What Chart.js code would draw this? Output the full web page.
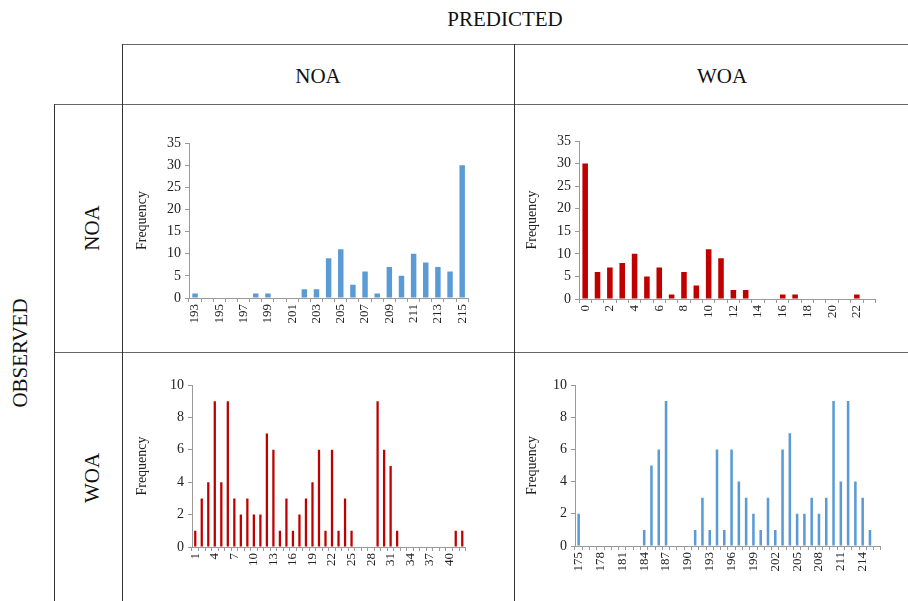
<!DOCTYPE html>
<html>
<head>
<meta charset="utf-8">
<script src="https://cdn.jsdelivr.net/npm/chart.js@4/dist/chart.umd.min.js"></script>
<style>
  body { margin: 0; background: #fff; }
  #page { position: relative; width: 908px; height: 601px; overflow: hidden; font-family: 'Liberation Serif', serif; color: #111; }
  .hl { position: absolute; height: 0; border-top: 1.5px solid #666; }
  .vl { position: absolute; width: 0; border-left: 1.5px solid #333; }
  .lbl { position: absolute; font-size: 21px; white-space: nowrap; transform: translate(-50%, -50%); }
  .rot { transform: translate(-50%, -50%) rotate(-90deg); }
  .box { position: absolute; }
</style>
</head>
<body>
<div id="page">
  <div class="lbl" style="left:505px; top:19px;">PREDICTED</div>
  <div class="lbl" style="left:318px; top:76px;">NOA</div>
  <div class="lbl" style="left:722px; top:76px;">WOA</div>
  <div class="lbl rot" style="left:20px; top:353px;">OBSERVED</div>
  <div class="lbl rot" style="left:92px; top:228px;">NOA</div>
  <div class="lbl rot" style="left:92px; top:478px;">WOA</div>

  <div class="hl" style="left:123px; top:44px; width:785px;"></div>
  <div class="hl" style="left:55px; top:104px; width:853px;"></div>
  <div class="hl" style="left:55px; top:352px; width:853px;"></div>
  <div class="vl" style="left:122px; top:44px; height:557px;"></div>
  <div class="vl" style="left:54px; top:104px; height:497px;"></div>
  <div class="vl" style="left:514px; top:44px; height:557px;"></div>

  <div class="box" style="left:130px; top:130px; width:350px; height:215px;"><canvas id="c1"></canvas></div>
  <div class="box" style="left:520px; top:128px; width:367px; height:215px;"><canvas id="c2"></canvas></div>
  <div class="box" style="left:130px; top:372px; width:350px; height:225px;"><canvas id="c3"></canvas></div>
  <div class="box" style="left:520px; top:372px; width:375px; height:225px;"><canvas id="c4"></canvas></div>
</div>
<script>
// Observed NOA / Predicted NOA
const noaNoaLabels = ['193','194','195','196','197','198','199','200','201','202','203','204','205','206','207','208','209','210','211','212','213','214','215'];
const noaNoaValues = [1,0,0,0,0,1,1,0,0,2,2,9,11,3,6,1,7,5,10,8,7,6,30];

// Observed NOA / Predicted WOA
const noaWoaLabels = ['0','1','2','3','4','5','6','7','8','9','10','11','12','13','14','15','16','17','18','19','20','21','22','23'];
const noaWoaValues = [30,6,7,8,10,5,7,1,6,3,11,9,2,2,0,0,1,1,0,0,0,0,1,0];

// Observed WOA / Predicted NOA
const woaNoaLabels = ['1','2','3','4','5','6','7','8','9','10','11','12','13','14','15','16','17','18','19','20','21',
  '22','23','24','25','26','27','28','29','30','31','32','33','34','35','36','37','38','39','40','41','42'];
const woaNoaValues = [1,3,4,9,4,9,3,2,3,2,2,7,6,1,3,1,2,3,4,6,1,
  6,1,3,1,0,0,0,9,6,5,1,0,0,0,0,0,0,0,0,1,1];

// Observed WOA / Predicted WOA
const woaWoaLabels = ['175','176','177','178','179','180','181','182','183','184','185','186','187','188','189','190','191','192','193','194','195',
  '196','197','198','199','200','201','202','203','204','205','206','207','208','209','210','211','212','213','214','215','216'];
const woaWoaValues = [2,0,0,0,0,0,0,0,0,1,5,6,9,0,0,0,1,3,1,6,1,
  6,4,3,2,1,3,1,6,7,2,2,3,2,3,9,4,9,4,3,1,0];

const BLUE = '#5b9bd5';
const RED = '#c00000';
const AXIS = '#9a9a9a';
const FONT = "'Liberation Serif', serif";

function makeChart(id, labels, values, color, opts) {
    const ctx = document.getElementById(id).getContext('2d');
    return new Chart(ctx, {
        type: 'bar',
        data: {
            labels: labels,
            datasets: [{
                data: values,
                backgroundColor: color,
                borderWidth: 0,
                barPercentage: opts.bar,
                categoryPercentage: 1
            }]
        },
        options: {
            responsive: true,
            maintainAspectRatio: false,
            animation: false,
            layout: { padding: { top: 13, right: opts.right, left: 0, bottom: 0 } },
            plugins: { legend: { display: false }, tooltip: { enabled: false } },
            scales: {
                x: {
                    offset: true,
                    grid: { display: true, drawOnChartArea: false, offset: true, tickLength: 4, color: AXIS },
                    border: { color: AXIS },
                    ticks: {
                        autoSkip: false,
                        maxRotation: 90,
                        minRotation: 90,
                        padding: 2,
                        color: '#222',
                        font: { family: FONT, size: 13 },
                        // only every n-th category gets a label, like the original
                        callback: (v, i) => (i % opts.every === 0 ? labels[i] : '')
                    },
                    afterFit: (scale) => { scale.height = opts.xh; }
                },
                y: {
                    min: 0,
                    max: opts.max,
                    ticks: { stepSize: opts.step, color: '#222', padding: 4, font: { family: FONT, size: 14 } },
                    grid: { display: true, drawOnChartArea: false, tickLength: 4, color: AXIS },
                    border: { color: AXIS },
                    title: {
                        display: true,
                        text: 'Frequency',
                        color: '#222',
                        font: { family: FONT, size: 14 },
                        padding: { top: 4, bottom: 0 }
                    },
                    afterFit: (scale) => { scale.width = opts.yw; }
                }
            }
        }
    });
}

makeChart('c1', noaNoaLabels, noaNoaValues, BLUE, { bar: 0.45, right: 10, every: 2, max: 35, step: 5, xh: 47, yw: 59 });
makeChart('c2', noaWoaLabels, noaWoaValues, RED, { bar: 0.45, right: 10, every: 2, max: 35, step: 5, xh: 44, yw: 59 });
makeChart('c3', woaNoaLabels, woaNoaValues, RED, { bar: 0.35, right: 12, every: 3, max: 10, step: 2, xh: 50, yw: 62 });
makeChart('c4', woaWoaLabels, woaWoaValues, BLUE, { bar: 0.35, right: 14, every: 3, max: 10, step: 2, xh: 51, yw: 55 });
</script>
</body>
</html>
